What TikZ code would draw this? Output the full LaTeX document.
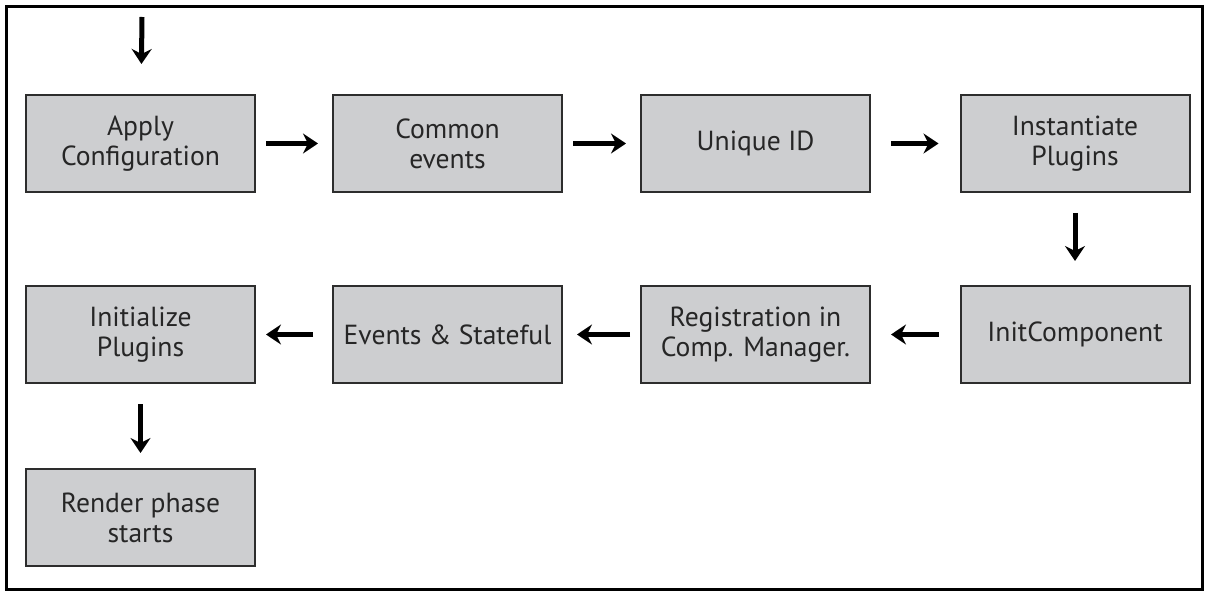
\documentclass[tikz,border=0pt]{standalone}
\usepackage{fontspec}
\setmainfont{PT Sans}
\usetikzlibrary{arrows.meta}

\definecolor{boxgray}{RGB}{205,206,208}
\definecolor{boxline}{RGB}{45,45,45}

\begin{document}
\begin{tikzpicture}[x=0.5pt, y=-0.5pt, >={Stealth[length=7.5pt, width=10pt, inset=2.5pt]},
		every edge/.style={draw, ->, line width=2.5pt, shorten <=5pt, shorten >=7pt},
		box/.style={draw=boxline, line width=1pt, fill=boxgray, text=black!85, minimum width=114.5pt, minimum height=48.5pt, inner sep=0pt, align=center, font=\fontsize{13.8}{15}\selectfont}]
		\useasboundingbox (0,0) rectangle (1209,598);
		\draw[line width=1.5pt] (6.5,7) rectangle (1202,589);
		
		\coordinate							(start) at (142, 17);
		\node[box]	(apply)		at (140.5, 143.5)	{Apply\\Configuration};
		\node[box]	(common)	at (447.5, 143.5)	{Common\\events};
		\node[box]	(unique)	at (755.5, 143.5)	{Unique ID};
		\node[box]	(inst)		at (1075, 143.5)	{Instantiate\\Plugins};
		\node[box]	(initcomp)	at (1075, 334.5)	{InitComponent};
		\node[box]	(regist)	at (755.5, 334.5)	{Registration in\\Comp. Manager.};
		\node[box]	(stateful)	at (447.5, 334.5)	{Events \& Stateful};
		\node[box]	(initplug)	at (140.5, 334.5)	{Initialize\\Plugins};
		\node[box]	(render)	at (140.5, 517.5)	{Render phase\\starts};
		
		\path 	(start) edge[shorten <=0pt, shorten >=15pt] (apply)
				(apply) edge (common)
				(common) edge (unique)
				(unique) edge[shorten <=10pt, shorten >=10.5pt] (inst)
				(inst) edge[shorten <=10pt, shorten >=12pt] (initcomp)
				(initcomp) edge[shorten <=10.5pt, shorten >=10pt] (regist)
				(regist) edge (stateful)
				(stateful) edge[shorten <=9.5pt, shorten >=5pt] (initplug)
				(initplug) edge[shorten <=10pt, shorten >=7.5pt] (render);
	\end{tikzpicture}
\end{document}
